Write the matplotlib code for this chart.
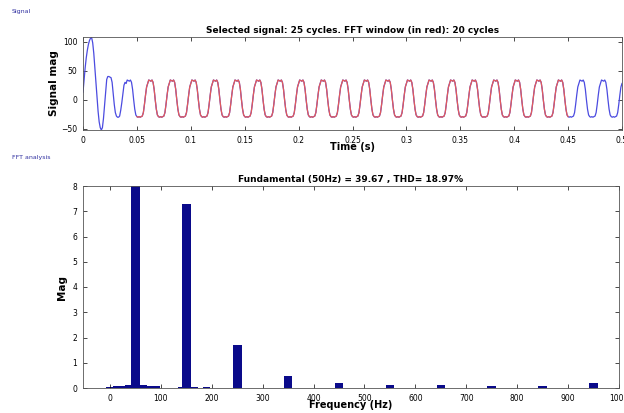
import numpy as np
import matplotlib
matplotlib.use('Agg')
import matplotlib.pyplot as plt

dt = 0.001
transitorio = [13, 35, 55, 72, 85, 95, 102, 106, 107, 98,
               80, 56, 30, 5, -20, -38, -48, -52, -48, -32,
               -10, 14, 35, 40, 40, 39, 38, 30, 10, -8,
               -22, -28, -30, -30, -28, -18, -5, 10, 25, 30]
ciclo = [28, 34, 33, 32, 34, 30, 18, 0, -16, -26,
         -29, -30, -29, -30, -29, -28, -22, -8, 8, 22]
n_ciclos_estables = 23
ventana = (0.05, 0.45)

# espectro
armonicos = [50, 150, 250, 350, 450, 550, 650, 750, 850, 950]
magnitudes = [39.67, 7.29, 1.70, 0.47, 0.21, 0.13, 0.12, 0.09, 0.07, 0.21]
fuga_f = [0, 12, 25, 37, 65, 78, 92, 140, 165, 190]
fuga_m = [0.05, 0.07, 0.09, 0.1, 0.11, 0.09, 0.06, 0.03, 0.03, 0.02]

titulo_senal = 'Selected signal: 25 cycles. FFT window (in red): 20 cycles'
titulo_fft = 'Fundamental (50Hz) = 39.67 , THD= 18.97%'


def main():
    senal = np.array(transitorio + ciclo * n_ciclos_estables, dtype=float)
    senal = np.append(senal, ciclo[0])
    t = np.arange(len(senal)) * dt

    W, H = 624, 413
    fig = plt.figure(figsize=(W / 100, H / 100), dpi=100)
    fig.patch.set_facecolor('white')

    def caja(x0, y0, x1, y1):
        return [x0 / W, 1 - y1 / H, (x1 - x0) / W, (y1 - y0) / H]

    # Senal
    ax1 = fig.add_axes(caja(83, 37, 622, 130))
    ax1.plot(t, senal, color='#4b4be0', lw=0.9)
    m = (t >= ventana[0] - 1e-9) & (t <= ventana[1] + 1e-9)
    ax1.plot(t[m], senal[m], color='#e35a5a', lw=0.9)
    ax1.set_xlim(0, 0.5)
    ax1.set_ylim(-52, 108)
    ax1.set_xticks(np.arange(0, 0.501, 0.05))
    ax1.set_xticklabels(['0', '0.05', '0.1', '0.15', '0.2', '0.25', '0.3',
                         '0.35', '0.4', '0.45', '0.5'])
    ax1.set_yticks([-50, 0, 50, 100])
    ax1.set_title(titulo_senal, fontsize=6.5, fontweight='bold', pad=3)
    ax1.set_xlabel('Time (s)', fontsize=7, fontweight='bold', labelpad=-1.5)
    ax1.set_ylabel('Signal mag', fontsize=7.5, fontweight='bold', labelpad=2)

    # FFT
    ax2 = fig.add_axes(caja(83, 186, 619, 388))
    ax2.bar(fuga_f, fuga_m, width=14, color='#0a0a8a')
    ax2.bar(armonicos, magnitudes, width=17, color='#0a0a8a')
    ax2.set_xlim(-53, 1000)
    ax2.set_ylim(0, 8)
    ax2.set_xticks(np.arange(0, 1001, 100))
    ax2.set_yticks(np.arange(0, 9, 1))
    ax2.set_title(titulo_fft, fontsize=6.5, fontweight='bold', pad=3)
    ax2.set_xlabel('Frequency (Hz)', fontsize=7, fontweight='bold', labelpad=-1.5)
    ax2.set_ylabel('Mag', fontsize=7.5, fontweight='bold', labelpad=4)

    for ax in (ax1, ax2):
        ax.tick_params(labelsize=5.5, direction='in', length=3, width=0.5,
                       top=True, right=True, pad=4)
        for s in ax.spines.values():
            s.set_linewidth(0.6)
            s.set_color('#555555')

    fig.text(12 / W, 1 - 12 / H, 'Signal', fontsize=4.5, color='#3030a0',
             va='center')
    fig.text(12 / W, 1 - 158 / H, 'FFT analysis', fontsize=4.5,
             color='#3030a0', va='center')

    fig.savefig('out.png', dpi=100)


if __name__ == "__main__":
    main()
